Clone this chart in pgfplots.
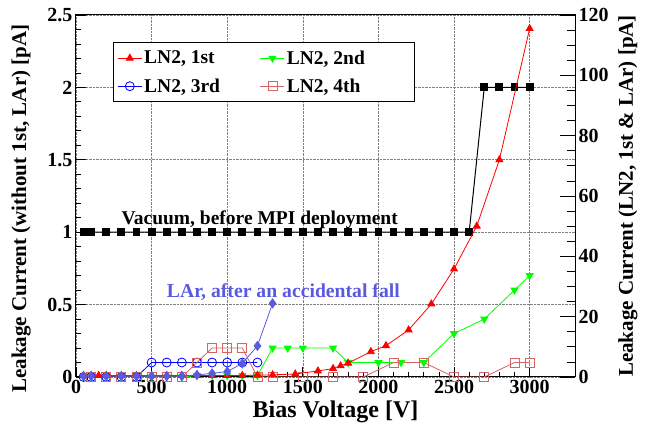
\documentclass[border=0pt]{standalone}
\usepackage{fontspec}
\setmainfont{Liberation Serif}
\usepackage{pgfplots}
\pgfplotsset{compat=1.18}

\definecolor{larblue}{RGB}{90,90,225}
\definecolor{pinkred}{RGB}{215,100,100}

\newcommand{\tickfont}{\bfseries\fontsize{20}{20}\selectfont}
\newcommand{\labfont}{\bfseries\fontsize{21}{21}\selectfont}

\pgfplotsset{
  rootframe/.style={
    scale only axis, width=499pt, height=362pt,
    xmin=0, xmax=3300,
    tick align=inside,
    tick style={black, line width=0.8pt},
    /pgf/number format/assume math mode=true,
    /pgf/number format/1000 sep={},
    scaled ticks=false,
    ticklabel style={font=\tickfont},
    label style={font=\labfont},
  },
  lcurve/.style={line width=0.8pt},
}

\begin{document}
\begin{tikzpicture}

% left axis: LN2 2nd, 3rd, 4th and vacuum
\begin{axis}[
    rootframe, name=main,
    axis line style={line width=1pt},
    ymin=0, ymax=2.5,
    xtick={0,500,...,3000}, minor x tick num=4,
    ytick={0,0.5,...,2.5}, minor y tick num=4,
    xtick pos=bottom, ytick pos=left,
    major tick length=10pt, minor tick length=5pt,
    grid=major, grid style={densely dotted, gray, line width=0.6pt},
    xlabel={Bias Voltage [V]},
    xlabel style={at={(axis description cs:0.52,-0.095)}, anchor=center,
      font=\bfseries\fontsize{24}{24}\selectfont},
    ylabel={Leakage Current (without 1st, LAr) [pA]},
    ylabel style={at={(axis description cs:-0.11,0.465)}, anchor=center},
    legend columns=2,
    legend cell align=left,
    legend image code/.code={\draw[mark repeat=2,mark phase=2,#1] plot coordinates {(0pt,0pt) (12pt,0pt) (24pt,0pt)};},
    legend style={at={(0.074,0.925)}, anchor=north west, draw=black, line width=1pt, fill=white,
      font=\bfseries\fontsize{19.5}{19.5}\selectfont,
      /tikz/every even column/.append style={column sep=38pt},
      row sep=9pt, inner xsep=4pt, inner ysep=6pt},
  ]

  \addlegendimage{lcurve, red, mark=triangle*, mark size=4pt}
  \addlegendentry{LN2, 1st}

  % LN2, 2nd
  \addplot[lcurve, green, mark=triangle*, mark options={rotate=180}, mark size=4pt] coordinates {
    (50,0) (100,0) (200,0) (300,0) (400,0) (500,0) (600,0) (700,0)
    (800,0.01) (900,0.01) (1000,0.01) (1100,0.01) (1200,0.01)
    (1300,0.2) (1400,0.2) (1500,0.2) (1700,0.2)
    (1800,0.1) (2000,0.1) (2150,0.1) (2300,0.1)
    (2500,0.3) (2700,0.4) (2900,0.6) (3000,0.7)
  };
  \addlegendentry{LN2, 2nd\rule{44pt}{0pt}}

  % LN2, 3rd
  \addplot[lcurve, blue, mark=o, mark size=4.5pt] coordinates {
    (50,0) (100,0) (200,0) (300,0) (400,0)
    (500,0.1) (600,0.1) (700,0.1) (800,0.1) (900,0.1) (1000,0.1) (1100,0.1) (1200,0.1)
  };
  \addlegendentry{LN2, 3rd}

  % LN2, 4th
  \addplot[lcurve, pinkred, mark=square, mark size=4.5pt] coordinates {
    (100,0) (200,0) (300,0) (400,0) (500,0) (600,0) (700,0)
    (800,0.1) (900,0.2) (1000,0.2) (1100,0.2)
    (1200,0) (1300,0) (1500,0) (1700,0) (1900,0)
    (2100,0.1) (2300,0.1) (2500,0) (2700,0) (2900,0.1) (3000,0.1)
  };
  \addlegendentry{LN2, 4th\rule{44pt}{0pt}}

  % vacuum
  \addplot[forget plot, line width=1pt, black, mark=square*, mark size=3.4pt] coordinates {
    (50,1) (100,1) (200,1) (300,1) (400,1) (500,1) (600,1) (700,1) (800,1)
    (900,1) (1000,1) (1100,1) (1200,1) (1300,1) (1400,1) (1500,1) (1600,1)
    (1700,1) (1800,1) (1900,1) (2000,1) (2100,1) (2200,1) (2300,1) (2400,1)
    (2500,1) (2600,1) (2700,2) (2800,2) (2900,2) (3000,2)
  };

  \node[anchor=base west, inner sep=0pt, font=\bfseries\fontsize{19.5}{19.5}\selectfont]
    at (axis cs:300,1.05) {Vacuum, before MPI deployment};
  \node[anchor=base west, inner sep=0pt, text=larblue, font=\bfseries\fontsize{19.7}{19.7}\selectfont]
    at (axis cs:600,0.546) {LAr, after an accidental fall};
\end{axis}

% right axis: LN2 1st and LAr
\begin{axis}[
    rootframe,
    axis x line=none, axis y line*=right,
    axis line style={line width=1pt},
    ymin=0, ymax=120,
    ytick={0,20,...,120}, minor y tick num=3,
    major tick length=15pt, minor tick length=8pt,
    ylabel={Leakage Current (LN2, 1st \& LAr) [pA]},
    ylabel style={at={(axis description cs:1.106,0.5)}, anchor=center, rotate=0},
  ]

  % LN2, 1st
  \addplot[lcurve, red, mark=triangle*, mark size=4pt] coordinates {
    (50,0.5) (100,0.5) (150,0.5) (200,0.5) (300,0.5) (400,0.5) (500,0.5)
    (600,0.5) (700,0.5) (800,0.5) (900,0.5) (1000,0.5) (1100,0.5)
    (1200,0.6) (1300,0.7) (1450,1.0) (1600,2.0) (1700,2.8) (1750,3.7)
    (1800,4.6) (1950,8.4) (2050,10.4) (2200,15.6) (2350,24.2) (2500,35.8)
    (2650,50) (2800,72) (3000,115.5)
  };

  % LAr
  \addplot[lcurve, larblue, mark=diamond*, mark size=4.5pt] coordinates {
    (50,0.3) (100,0.3) (200,0.3) (300,0.3) (400,0.3) (500,0.3) (600,0.3) (700,0.3)
    (800,0.7) (900,1.2) (1000,1.8) (1100,4.5) (1200,10.3) (1300,24.4)
  };
\end{axis}

\pgfresetboundingbox
\path[use as bounding box] ([xshift=-76pt,yshift=-53pt]main.south west)
  rectangle ([xshift=70pt,yshift=15pt]main.north east);
\end{tikzpicture}
\end{document}
